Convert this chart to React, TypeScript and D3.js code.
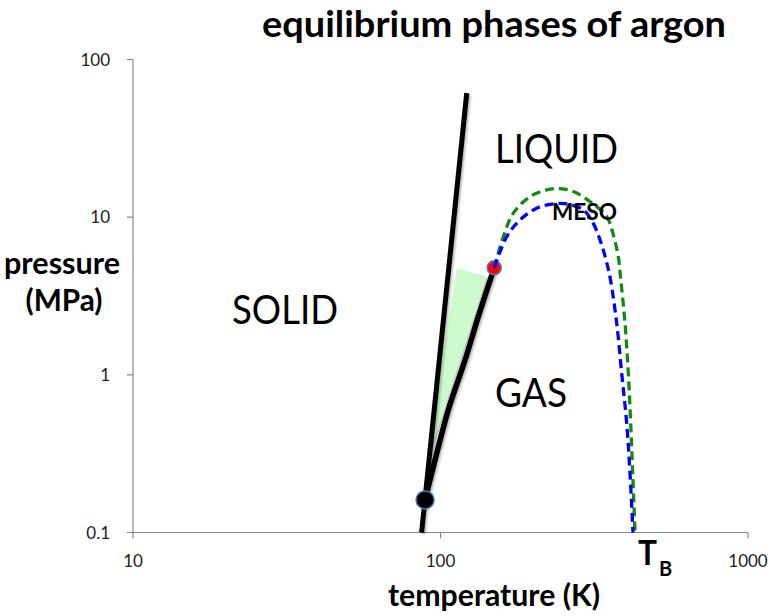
import React from "react";
import * as d3 from "d3";

// ---- data ----
const xTicks = [10, 100, 1000];
const yTicks = [0.1, 1, 10, 100];
const xTickLabels = ["10", "100", "1000"];
const yTickLabels = ["0.1", "1", "10", "100"];

// melting (solid-liquid) line, log-log straight
const meltT = [86.8, 121.7];
const meltP = [0.1, 61.2];

// vaporization (liquid-gas) curve from triple point to critical point
const vapT = [89.1, 95.96, 106.0, 120.2, 132.7, 149.5];
const vapP = [0.161, 0.2884, 0.599, 1.243, 2.34, 4.77];

// shaded metastable wedge
const wedgeT = [112.9, 141.3, 90.2];
const wedgeP = [4.75, 4.2, 0.275];

// blue dashed boundary (from critical point to Boyle temperature)
const blueT = [149.5, 164.2, 181.4, 205.5, 232.7, 257.3, 291.3, 313.3, 330.2, 345.3, 357.2, 374.1, 388.4, 403.2, 413.3, 422.7];
const blueP = [4.77, 7.53, 9.61, 11.41, 12.14, 12.14, 11.13, 9.2, 7.18, 5.36, 4.0, 2.13, 1.02, 0.493, 0.237, 0.1];

// green dashed boundary
const greenT = [149.5, 160.1, 172.5, 195.5, 221.5, 244.6, 270.4, 306.3, 347.1, 364.8, 378.6, 384.9, 398.1, 408.1, 415.4, 421.7, 429.1];
const greenP = [4.77, 7.53, 10.6, 13.5, 14.9, 15.19, 14.54, 12.56, 10.09, 7.72, 5.62, 4.18, 2.13, 1.02, 0.493, 0.237, 0.1];

const triplePoint = [89.1, 0.161];
const criticalPoint = [149.5, 4.77];

const W = 772;
const H = 616;
const FONT = "Lato, 'Open Sans', sans-serif";

export default function App() {
  const x = d3.scaleLog().domain([10, 1000]).range([133, 748]);
  const y = d3.scaleLog().domain([0.1, 100]).range([532.5, 59.5]);

  const zip = (a: number[], b: number[]) => a.map((v, i) => [v, b[i]] as [number, number]);
  const lineStraight = d3
    .line<[number, number]>()
    .x((d) => x(d[0]))
    .y((d) => y(d[1]));
  const lineSmooth = d3
    .line<[number, number]>()
    .x((d) => x(d[0]))
    .y((d) => y(d[1]))
    .curve(d3.curveCatmullRom.alpha(0.5));

  const axisColor = "#878787";
  const x0 = x(10);
  const x1 = x(1000);
  const yb = y(0.1);
  const yt = y(100);

  return (
    <svg
      width={W}
      height={H}
      style={{ position: "absolute", left: 0, top: 0, background: "#fff" }}
      fontFamily={FONT}
    >
      <defs>
        <filter id="sh" x="-50%" y="-50%" width="200%" height="200%">
          <feDropShadow dx="1.5" dy="1.5" stdDeviation="1" floodColor="#000" floodOpacity="0.3" />
        </filter>
      </defs>
      <rect x={0} y={0} width={W} height={H} fill="#fff" />

      {/* title */}
      <text x={262} y={37} fontSize={37} fontWeight="bold" textLength={464} lengthAdjust="spacingAndGlyphs" fill="#000">
        equilibrium phases of argon
      </text>

      {/* axes */}
      <g stroke={axisColor} strokeWidth={1.2} fill="none">
        <line x1={x0} y1={yt} x2={x0} y2={yb} />
        <line x1={x0} y1={yb} x2={x1} y2={yb} />
        {yTicks.map((t) => (
          <line key={"yt" + t} x1={x0 - 6} x2={x0} y1={y(t)} y2={y(t)} />
        ))}
        {xTicks.map((t) => (
          <line key={"xt" + t} x1={x(t)} x2={x(t)} y1={yb} y2={yb + 6} />
        ))}
      </g>
      {yTicks.map((t, i) => (
        <text key={"yl" + t} x={x0 - 23} y={y(t)} dy="0.36em" textAnchor="end" fontSize={17} fill="#222">
          {yTickLabels[i]}
        </text>
      ))}
      {xTicks.map((t, i) => (
        <text key={"xl" + t} x={x(t)} y={567} textAnchor="middle" fontSize={17} fill="#222">
          {xTickLabels[i]}
        </text>
      ))}

      {/* axis titles */}
      <text x={62} y={274} textAnchor="middle" fontSize={30} fontWeight="bold" textLength={116} lengthAdjust="spacingAndGlyphs">
        pressure
      </text>
      <text x={64} y={311} textAnchor="middle" fontSize={30} fontWeight="bold" textLength={77} lengthAdjust="spacingAndGlyphs">
        (MPa)
      </text>
      <text x={494} y={606} textAnchor="middle" fontSize={30} fontWeight="bold" textLength={212} lengthAdjust="spacingAndGlyphs">
        temperature (K)
      </text>

      {/* wedge */}
      <path
        d={lineStraight(zip(wedgeT, wedgeP)) + "Z"}
        fill="#ccfacc"
        stroke="none"
        filter="url(#sh)"
      />

      {/* phase lines */}
      <g filter="url(#sh)">
        <path d={lineStraight(zip(meltT, meltP)) || ""} fill="none" stroke="#000" strokeWidth={5} />
        <path d={lineSmooth(zip(vapT, vapP)) || ""} fill="none" stroke="#000" strokeWidth={5.5} />
      </g>

      {/* markers */}
      <circle cx={x(triplePoint[0])} cy={y(triplePoint[1])} r={9} fill="#000" stroke="#4a7ebb" strokeWidth={1.5} />
      <circle cx={x(criticalPoint[0])} cy={y(criticalPoint[1])} r={7} fill="#f00" stroke="#4a7ebb" strokeWidth={1.5} />

      {/* dashed boundaries */}
      <path d={lineSmooth(zip(greenT, greenP)) || ""} fill="none" stroke="#138a13" strokeWidth={3.3} strokeDasharray="9,5" />
      <path d={lineSmooth(zip(blueT, blueP)) || ""} fill="none" stroke="#0000ff" strokeWidth={3.3} strokeDasharray="9,5" />

      {/* region labels */}
      <text x={232} y={324} fontSize={40} textLength={106} lengthAdjust="spacingAndGlyphs">SOLID</text>
      <text x={495} y={163} fontSize={40} textLength={123} lengthAdjust="spacingAndGlyphs">LIQUID</text>
      <text x={495} y={407} fontSize={40} textLength={72} lengthAdjust="spacingAndGlyphs">GAS</text>
      <text x={552} y={220} fontSize={22} fontWeight="bold" textLength={65} lengthAdjust="spacingAndGlyphs">MESO</text>
      <text x={638} y={565} fontSize={34} fontWeight="bold" textLength={19} lengthAdjust="spacingAndGlyphs">T</text>
      <text x={659} y={576} fontSize={20} fontWeight="bold">B</text>
    </svg>
  );
}
